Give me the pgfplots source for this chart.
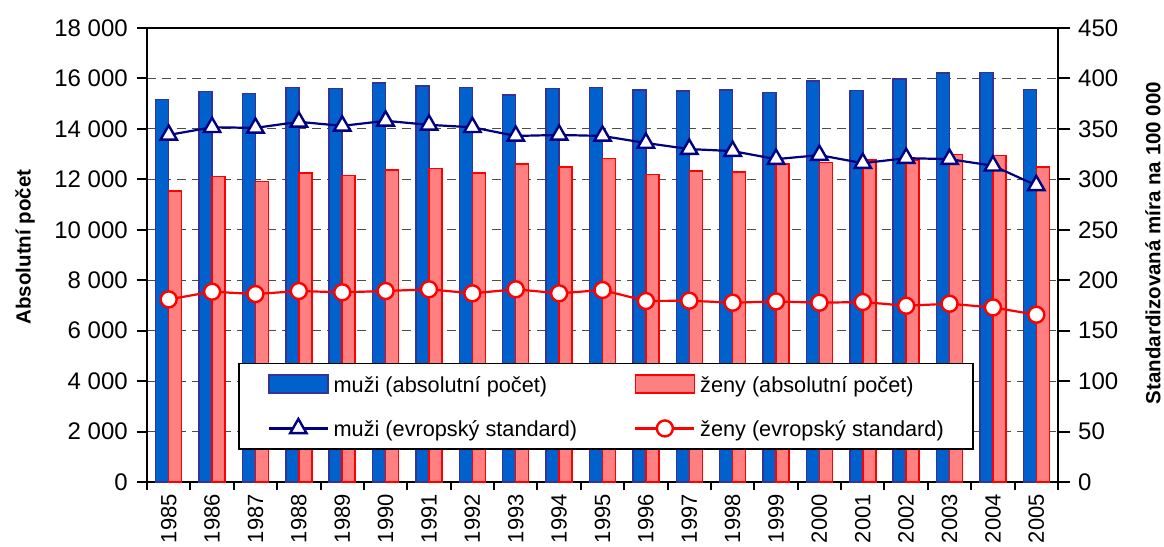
\documentclass[border=0pt]{standalone}
\usepackage{fontspec}
\setmainfont{Liberation Sans}
\usepackage{pgfplots}
\pgfplotsset{compat=1.18}
\definecolor{mblue}{RGB}{0,96,204}
\definecolor{mblueedge}{RGB}{51,51,153}
\definecolor{fpink}{RGB}{255,128,128}
\definecolor{fred}{RGB}{255,0,0}
\definecolor{navy}{RGB}{0,0,128}
\pgfplotsset{
  barleg/.style={legend image code/.code={\draw[##1] (0pt,-8pt) rectangle (59pt,10pt);}},
  lineleg/.style={legend image code/.code={\draw[##1,mark repeat=2,mark phase=2] plot coordinates {(0pt,1pt) (29.5pt,1pt) (59pt,1pt)};}},
  common/.style={
    scale only axis, width=911pt, height=454pt,
    xmin=-0.5, xmax=20.5, enlargelimits=false,
    tick align=outside,
    scaled y ticks=false,
    axis line style={line width=2pt, black},
    tick style={line width=2pt, black},
    ticklabel style={font=\fontsize{24}{28}\selectfont},
    /pgf/number format/assume math mode=true,
  }
}
\begin{document}
\begin{tikzpicture}
\begin{axis}[common,
  ymin=0, ymax=18000, ytick={0,2000,...,18000},
  yticklabels={0,2 000,4 000,6 000,8 000,10 000,12 000,14 000,16 000,18 000},
  ytick pos=left, xtick pos=left,
  xtick={0,...,20},
  xticklabels={1985,1986,1987,1988,1989,1990,1991,1992,1993,1994,1995,1996,1997,1998,1999,2000,2001,2002,2003,2004,2005},
  minor xtick={-0.5,0.5,...,20.5},
  major x tick style={draw=none},
  major tick length=10pt, minor tick length=8pt,
  xticklabel style={rotate=90, anchor=east, inner sep=0pt, font=\fontsize{22}{26}\selectfont},
  xticklabel shift=2pt,
  yticklabel style={inner sep=0pt},
  yticklabel shift=9pt,
  ymajorgrids,
  major grid style={dash pattern=on 9pt off 6pt, line width=1.2pt, black!70},
  ybar=0pt, bar width=13pt,
  ylabel={Absolutní počet},
  every axis y label/.style={at={(axis description cs:-0.1339,0.5176)}, rotate=90, anchor=center, font=\bfseries\fontsize{20.5}{24}\selectfont},
]
\addplot[fill=mblue, draw=mblueedge, line width=1.5pt] coordinates {
(0,15170) (1,15480) (2,15410) (3,15650) (4,15600) (5,15810) (6,15700) (7,15640) (8,15350) (9,15600) (10,15650)
(11,15540) (12,15500) (13,15540) (14,15440) (15,15890) (16,15530) (17,15980) (18,16220) (19,16230) (20,15570)};
\addplot[fill=fpink, draw=fred, line width=1.5pt] coordinates {
(0,11540) (1,12120) (2,11920) (3,12250) (4,12160) (5,12370) (6,12420) (7,12250) (8,12610) (9,12480) (10,12830)
(11,12200) (12,12340) (13,12300) (14,12610) (15,12660) (16,12770) (17,12770) (18,12980) (19,12950) (20,12480)};
\end{axis}
\begin{axis}[common,
  axis y line*=right, axis x line=none,
  ymin=0, ymax=450, ytick={0,50,...,450},
  major tick length=12pt,
  yticklabel style={inner sep=0pt},
  yticklabel shift=8pt,
  ylabel={Standardizovaná míra na 100 000},
  every axis y label/.style={at={(axis description cs:1.1043,0.5264)}, rotate=90, anchor=center, font=\bfseries\fontsize{20.5}{24}\selectfont},
  legend columns=2,
  legend cell align=left,
  legend style={at={(rel axis cs:0.0999,0.2628)}, anchor=north west, draw=black, line width=1.5pt, fill=white,
    font=\fontsize{21.7}{26}\selectfont, inner xsep=29pt, inner ysep=11pt, row sep=25pt,
    nodes={inner sep=0pt},
    /tikz/every odd column/.style={column sep=4.7pt},
    /tikz/every even column/.style={column sep=57pt}},
]
\addlegendimage{barleg, fill=mblue, draw=mblueedge, line width=1.5pt}
\addlegendentry{muži (absolutní počet)}
\addlegendimage{barleg, fill=fpink, draw=fred, line width=1.5pt}
\addlegendentry{ženy (absolutní počet)}
\addplot[lineleg, navy, line width=2.2pt, mark=triangle*, mark size=9.5pt, mark options={fill=white, solid, line width=2.4pt}] coordinates {
(0,344) (1,351.6) (2,351) (3,357) (4,353) (5,358) (6,354) (7,351.6) (8,343) (9,344) (10,343)
(11,336) (12,330) (13,328) (14,320) (15,324) (16,316) (17,321) (18,320) (19,313.5) (20,294)};
\addlegendentry{muži (evropský standard)}
\addplot[lineleg, fred, line width=2.2pt, mark=*, mark size=8pt, mark options={fill=white, solid, line width=2.4pt}] coordinates {
(0,181) (1,188.6) (2,186.3) (3,189.3) (4,188) (5,189.3) (6,191) (7,187) (8,191) (9,187) (10,190.3)
(11,179.4) (12,179.7) (13,177.7) (14,179) (15,177.7) (16,178.4) (17,174.7) (18,176.7) (19,173) (20,165.8)};
\addlegendentry{ženy (evropský standard)}
\end{axis}
\pgfresetboundingbox
\useasboundingbox (-147pt,-64pt) rectangle (1017pt,482pt);
\end{tikzpicture}
\end{document}
